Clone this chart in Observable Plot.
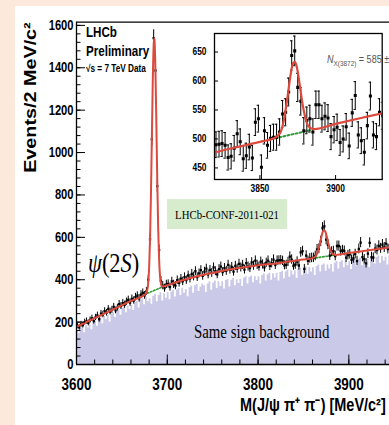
<!DOCTYPE html>
<html>
<head>
<meta charset="utf-8">
<script src="https://cdn.jsdelivr.net/npm/d3@7"></script>
<script src="https://cdn.jsdelivr.net/npm/@observablehq/plot@0.6"></script>
<style>
  html, body { margin: 0; padding: 0; width: 389px; height: 425px; overflow: hidden; background: #fce9db; }
  #panel { position: absolute; left: 15px; top: 6px; width: 374px; height: 419px; background: #ffffff; overflow: hidden; }
  #main { position: absolute; left: 0; top: 0; width: 374px; height: 419px; }
  #inset { position: absolute; left: 165px; top: 22px; width: 209px; height: 170px; }
</style>
</head>
<body>
<div id="panel"><div id="main"></div><div id="inset"></div></div>
<script>
// ---------------- data ----------------
// histogram binning: 2 MeV bins starting at 3600
const binLo = 3600, binW = 2;

// same-sign background histogram, events per 2 MeV bin (3600 ... 3946)
const sameSign = [
  158, 146, 170, 176, 150, 183, 172, 188, 164, 195,
  204, 180, 208, 220, 192, 226, 212, 234, 200, 238,
  244, 222, 252, 258, 232, 264, 272, 244, 276, 258,
  280, 255, 292, 298, 266, 304, 312, 282, 318, 296,
  310, 284, 322, 330, 296, 326, 338, 300, 334, 312,
  338, 306, 342, 350, 318, 352, 358, 326, 360, 336,
  354, 320, 362, 370, 336, 372, 378, 344, 366, 380,
  372, 340, 380, 390, 350, 384, 394, 358, 390, 368,
  390, 356, 396, 402, 366, 398, 406, 372, 400, 382,
  402, 368, 408, 414, 380, 410, 418, 386, 414, 396,
  414, 380, 420, 428, 394, 424, 430, 398, 428, 408,
  430, 394, 434, 440, 405, 438, 446, 412, 442, 422,
  442, 406, 448, 455, 420, 452, 460, 426, 458, 436,
  456, 420, 462, 470, 436, 468, 474, 440, 470, 450,
  472, 436, 478, 486, 450, 482, 490, 456, 488, 466,
  486, 448, 492, 498, 462, 495, 502, 466, 500, 478,
  498, 458, 502, 508, 474, 505, 512, 478, 510, 488,
  506, 470, 512
];

// opposite-sign data, events per 2 MeV bin (centres 3601 ... 3945)
const events = [
  182, 175, 190, 186, 200, 205, 196, 210, 218, 205,
  222, 232, 214, 240, 236, 252, 244, 262, 250, 258,
  272, 255, 268, 285, 276, 290, 282, 296, 305, 292,
  310, 302, 318, 325, 312, 330, 338, 326, 345, 400,
  591, 1062, 1540, 1387, 842, 540, 395, 372, 360, 378,
  380, 365, 392, 378, 372, 398, 385, 405, 392, 412,
  398, 420, 405, 428, 415, 440, 412, 430, 445, 418,
  438, 452, 425, 446, 432, 458, 440, 425, 450, 462,
  436, 455, 442, 470, 448, 460, 438, 465, 452, 475,
  458, 470, 448, 478, 462, 455, 482, 466, 490, 470,
  462, 485, 472, 458, 480, 490, 465, 478, 495, 470,
  490, 491, 492, 489, 468, 470, 484, 509, 495, 466,
  471, 486, 467, 529, 535, 451, 514, 489, 501, 503,
  503, 512, 543, 546, 581, 644, 652, 589, 565, 514,
  532, 535, 512, 559, 559, 535, 539, 536, 504, 516,
  520, 494, 500, 521, 488, 545, 575, 507, 497, 477,
  523, 574, 507, 504, 546, 540, 560, 548, 566, 552,
  570, 545, 562
];

// fit curve (signal + background)
const fitMass = [
  3600, 3620, 3640, 3660, 3676,
  3678, 3679, 3680, 3681, 3682, 3683, 3684, 3685, 3685.6, 3686,
  3687, 3688, 3689, 3690, 3691, 3692, 3693, 3694, 3696, 3700,
  3710, 3720, 3730, 3740, 3750, 3760, 3770, 3780, 3790, 3800,
  3810, 3820, 3830, 3840, 3850, 3860, 3862, 3864, 3866, 3868,
  3870, 3871, 3872, 3873, 3874, 3875, 3876, 3878, 3880, 3882,
  3884, 3886, 3900, 3920, 3946
];
const fitValue = [
  178, 219, 259, 300, 332,
  352, 384, 456, 590, 799, 1066, 1331, 1507, 1539, 1526,
  1381, 1130, 861, 641, 497, 418, 383, 368.5, 369, 374,
  388, 401, 413, 423, 432, 441, 449, 456, 462, 468,
  473, 477, 483, 489, 495, 502, 506, 514, 535, 568,
  606, 622, 631, 633, 628, 616, 599, 563, 537, 522,
  518, 517, 526, 538, 553
];

// background-only component under the two peaks (dotted)
const psiBgMass = [3678, 3696], psiBgValue = [336, 368];
const xBgMass = [3860, 3884], xBgValue = [501, 515.5];

// ticks
const xMajor = [3600, 3700, 3800, 3900];
const xMinor = d3.range(3600, 3945, 20);
const yMajor = [0, 200, 400, 600, 800, 1000, 1200, 1400, 1600];
const yMinor = d3.range(0, 1601, 40);
const insetXTicks = [3850, 3900];
const insetYTicks = [450, 500, 550, 600, 650];

// ---------------- tables ----------------
// histogram drawn as a step outline from the bin edges (last edge closes the final bin)
const ssRows = sameSign.map((n, i) => ({edge: binLo + i * binW, n}));
ssRows.push({edge: binLo + sameSign.length * binW, n: sameSign[sameSign.length - 1]});
const evRows = events.map((n, i) => ({x: binLo + i * binW + binW / 2, n, e: Math.sqrt(n)}));
const fitRows = fitMass.map((m, i) => ({m, v: fitValue[i]}));
const psiBg = psiBgMass.map((m, i) => ({m, v: psiBgValue[i]}));
const xBg = xBgMass.map((m, i) => ({m, v: xBgValue[i]}));

const SANS = "Liberation Sans, Arial, Helvetica, sans-serif";
const SERIF = "Liberation Serif, Times New Roman, serif";
const RED = "#dc4a3d", GREEN = "#2f9a35", LAV = "#cbc9e8", BOX = "#d7ebcd";

// ---------------- main plot ----------------
const main = Plot.plot({
  width: 374, height: 419,
  marginLeft: 61, marginRight: 0, marginTop: 15.7, marginBottom: 61,
  x: {domain: [3600, 3944.8], label: null},
  y: {domain: [0, 1615], label: null},
  style: {background: "transparent", overflow: "visible", maxWidth: "none", color: "black"},
  marks: [
    Plot.areaY(ssRows, {x: "edge", y: "n", curve: "step-after", fill: LAV, clip: true}),
    Plot.rect([0], {x1: 3700.3, x2: 3832.5, y1: 637, y2: 778, fill: BOX}),
    Plot.line(psiBg, {x: "m", y: "v", stroke: GREEN, strokeWidth: 1.6, strokeDasharray: "1.6,1.8"}),
    Plot.line(xBg, {x: "m", y: "v", stroke: GREEN, strokeWidth: 1.6, strokeDasharray: "1.6,1.8"}),
    Plot.ruleX(evRows, {x: "x", y1: d => d.n - d.e, y2: d => d.n + d.e, stroke: "black", strokeWidth: 1, clip: true}),
    Plot.dot(evRows, {x: "x", y: "n", symbol: "square", r: 1.3, fill: "black", stroke: null, clip: true}),
    Plot.line(fitRows, {x: "m", y: "v", stroke: RED, strokeWidth: 2, curve: "monotone-x", clip: true}),
    Plot.ruleX([3600], {stroke: "black", strokeWidth: 1.3}),
    Plot.ruleY([0], {stroke: "black", strokeWidth: 1.3}),
    Plot.ruleY([1615], {stroke: "black", strokeWidth: 1.3}),
    Plot.axisY({ticks: yMajor, tickSize: -9, tickPadding: 12, tickFormat: "d", fontSize: 14, fontWeight: "bold", fontFamily: SANS, label: null}),
    Plot.axisY({ticks: yMinor, tickSize: -4.5, tickFormat: () => "", label: null}),
    Plot.axisX({ticks: xMajor, tickSize: -9.5, tickPadding: 23.5, tickFormat: "d", fontSize: 16.8, fontWeight: "bold", fontFamily: SANS, label: null}),
    Plot.axisX({ticks: xMinor, tickSize: -4.5, tickFormat: () => "", label: null})
  ]
});

// ---------------- inset ----------------
const inset = Plot.plot({
  width: 209, height: 170,
  marginLeft: 34, marginRight: 7.3, marginTop: 5, marginBottom: 19,
  x: {domain: [3820, 3930.8], label: null},
  y: {domain: [430, 682], label: null},
  style: {background: "transparent", overflow: "visible", maxWidth: "none", color: "black"},
  marks: [
    Plot.frame({fill: "white", stroke: "none"}),
    Plot.line(xBg, {x: "m", y: "v", stroke: GREEN, strokeWidth: 2, strokeDasharray: "2,2.2", clip: true}),
    Plot.ruleX(evRows, {x: "x", y1: d => d.n - d.e, y2: d => d.n + d.e, stroke: "black", strokeWidth: 1, clip: true}),
    Plot.ruleY(evRows, {y: d => d.n + d.e, x1: d => d.x - 0.8, x2: d => d.x + 0.8, stroke: "black", strokeWidth: 1, clip: true}),
    Plot.ruleY(evRows, {y: d => d.n - d.e, x1: d => d.x - 0.8, x2: d => d.x + 0.8, stroke: "black", strokeWidth: 1, clip: true}),
    Plot.dot(evRows, {x: "x", y: "n", symbol: "square", r: 1.7, fill: "black", stroke: null, clip: true}),
    Plot.line(fitRows, {x: "m", y: "v", stroke: RED, strokeWidth: 2.2, curve: "monotone-x", clip: true}),
    Plot.frame({stroke: "black", strokeWidth: 1.3}),
    Plot.axisY({ticks: insetYTicks, tickSize: -4, tickPadding: 12, tickFormat: "d", fontSize: 10.5, fontWeight: "bold", fontFamily: SANS, label: null}),
    Plot.axisX({ticks: insetXTicks, tickSize: -4, tickPadding: 9, tickFormat: "d", fontSize: 10.5, fontWeight: "bold", fontFamily: SANS, label: null})
  ]
});

document.getElementById("main").append(main);
document.getElementById("inset").append(inset);

// ---------------- annotations ----------------
const mx = main.scale("x"), my = main.scale("y");
const ix = inset.scale("x"), iy = inset.scale("y");
const gm = d3.select(main).append("g");

function label(g, text, xv, yv, opts = {}) {
  const t = g.append("text")
    .attr("x", xv).attr("y", yv)
    .attr("font-family", opts.family || SANS)
    .attr("font-size", opts.size || 12)
    .attr("font-weight", opts.weight || "normal")
    .attr("text-anchor", opts.anchor || "start")
    .attr("fill", opts.fill || "black");
  if (text != null) t.text(text);
  return t;
}

label(gm, "LHCb", mx.apply(3611), my.apply(1541), {size: 14.5, weight: "bold"});
label(gm, "Preliminary", mx.apply(3611), my.apply(1452.8), {size: 14.5, weight: "bold"});
label(gm, "\u221As = 7 TeV Data", mx.apply(3611), my.apply(1378.8), {size: 10.3, weight: "bold"});

const psi = label(gm, null, mx.apply(3613.2), my.apply(434), {family: SERIF, size: 28});
psi.append("tspan").attr("font-style", "italic").text("\u03C8");
psi.append("tspan").text("(2");
psi.append("tspan").attr("font-style", "italic").text("S");
psi.append("tspan").text(")");

label(gm, "LHCb-CONF-2011-021", mx.apply(3766.4), my.apply(684), {family: SERIF, size: 13.5, anchor: "middle"});
label(gm, "Same sign background", mx.apply(3804.4), my.apply(121.2), {family: SERIF, size: 18.6, anchor: "middle"});
label(gm, "M(J/\u03C8 \u03C0\u207A \u03C0\u207B) [MeV/c\u00B2]", mx.apply(3780.7), my.apply(-221.5), {size: 18.1, weight: "bold"});

gm.append("text")
  .attr("class", "ytitle")
  .attr("transform", `translate(${mx.apply(3549.9)},${my.apply(1257)}) rotate(-90)`)
  .attr("dy", "0.35em")
  .attr("font-family", SANS).attr("font-size", 19.8).attr("font-weight", "bold")
  .attr("text-anchor", "middle").attr("fill", "black")
  .text("Events/2 MeV/c\u00B2");

const gi = d3.select(inset).append("g");
const nt = label(gi, null, ix.apply(3894.7), iy.apply(629.7), {size: 11.3, fill: "#555"});
nt.append("tspan").attr("font-style", "italic").text("N");
nt.append("tspan").attr("font-size", 8).attr("dy", 2.5).text("X(3872)");
nt.append("tspan").attr("dy", -2.5).text(" = 585 \u00B1");

// ---------------- horizontal compression of the lettering (as in the picture) ----------------
function squeeze(t, fx, fy) {
  const bb = t.getBBox();
  if (!bb.width) return;
  const a = getComputedStyle(t).textAnchor;
  const ax = a === "end" ? bb.x + bb.width : a === "middle" ? bb.x + bb.width / 2 : bb.x;
  const ay = bb.y + bb.height / 2;
  const tr = t.getAttribute("transform") || "";
  t.setAttribute("transform", `${tr} translate(${ax},${ay}) scale(${fx},${fy}) translate(${-ax},${-ay})`);
}
main.querySelectorAll("text").forEach(t => {
  if (t.classList.contains("ytitle")) squeeze(t, 1, 0.8);
  else squeeze(t, 0.8, 1);
});
inset.querySelectorAll("text").forEach(t => squeeze(t, 0.8, 1));
</script>
</body>
</html>
